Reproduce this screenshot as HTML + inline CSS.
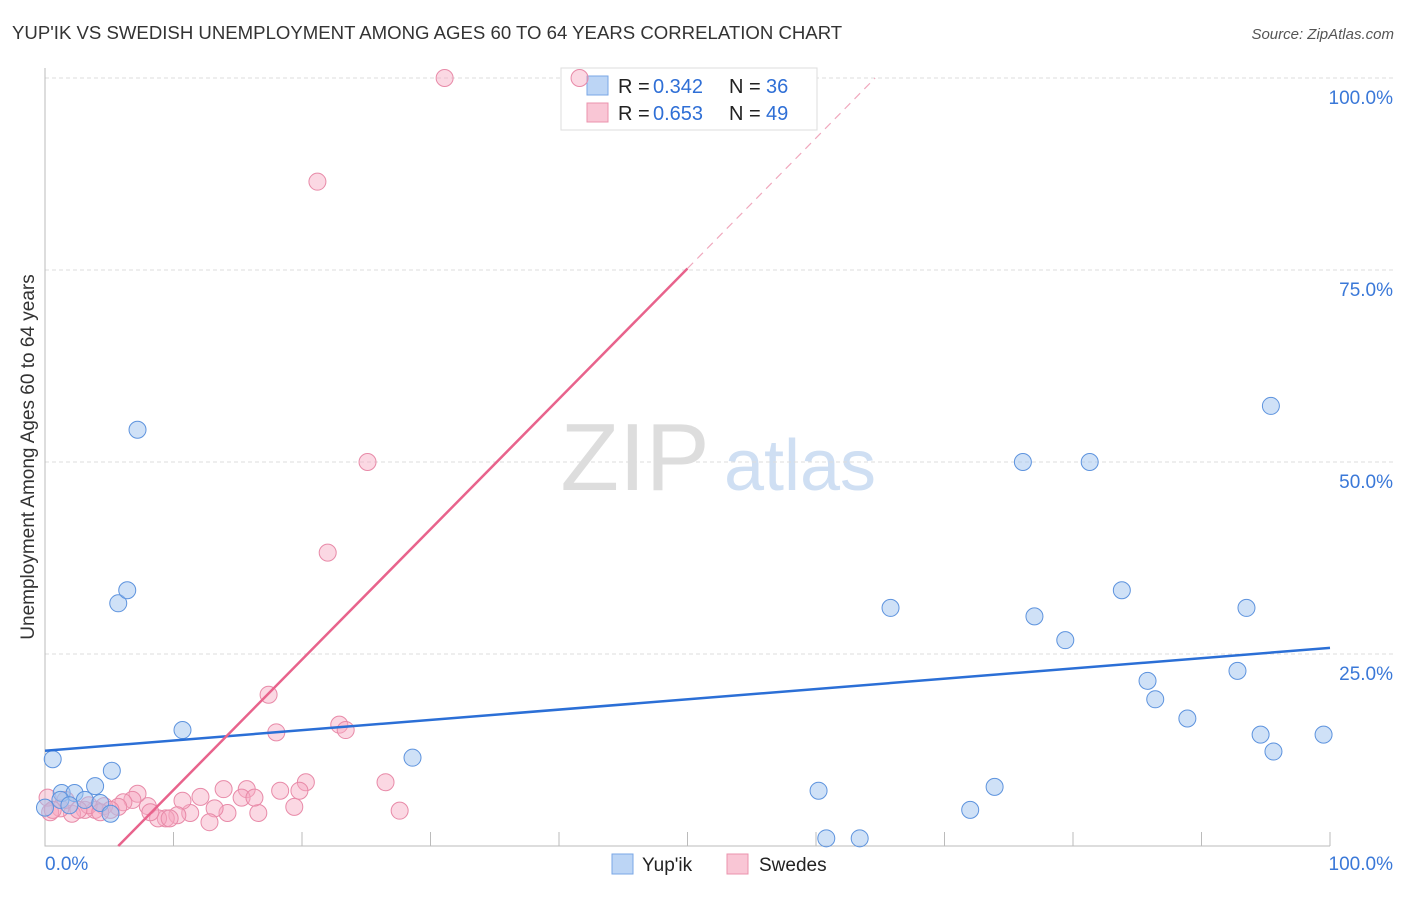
<!DOCTYPE html>
<html><head><meta charset="utf-8"><style>
body{margin:0;background:#fff;font-family:"Liberation Sans",sans-serif}
svg text{font-family:"Liberation Sans",sans-serif}
</style></head><body>
<svg id="c" width="1406" height="892" xmlns="http://www.w3.org/2000/svg">
<text x="12" y="39" font-size="18.6" fill="#333">YUP'IK VS SWEDISH UNEMPLOYMENT AMONG AGES 60 TO 64 YEARS CORRELATION CHART</text>
<text x="1394" y="39" font-size="15" fill="#555" font-style="italic" text-anchor="end">Source: ZipAtlas.com</text>
<text x="34" y="457" font-size="19" fill="#333" text-anchor="middle" transform="rotate(-90 34 457)">Unemployment Among Ages 60 to 64 years</text>
<text x="635" y="490" font-size="96" fill="#ddd" font-family="Liberation Serif" text-anchor="middle">ZIP</text>
<text x="800" y="490" font-size="72" fill="#cfdff3" text-anchor="middle">atlas</text>
<g id="grid"></g>
<g>
<rect x="561" y="68" width="256" height="62" fill="#fff" stroke="#ddd"/>
<rect x="587" y="76" width="21" height="19" fill="#bcd5f5" stroke="#7aa7e6"/>
<rect x="587" y="103" width="21" height="19" fill="#f9c6d5" stroke="#eb93ad"/>
<text x="618" y="93" font-size="20" fill="#222">R =</text><text x="653" y="93" font-size="20" fill="#2f6fd6">0.342</text>
<text x="729" y="93" font-size="20" fill="#222">N =</text><text x="766" y="93" font-size="20" fill="#2f6fd6">36</text>
<text x="618" y="120" font-size="20" fill="#222">R =</text><text x="653" y="120" font-size="20" fill="#2f6fd6">0.653</text>
<text x="729" y="120" font-size="20" fill="#222">N =</text><text x="766" y="120" font-size="20" fill="#2f6fd6">49</text>
</g>
<g id="pts"></g><g id="lines"></g>
<g>
<rect x="612" y="854" width="21" height="20" fill="#bcd5f5" stroke="#7aa7e6"/>
<text x="642" y="871" font-size="19" fill="#222">Yup'ik</text>
<rect x="727" y="854" width="21" height="20" fill="#f9c6d5" stroke="#eb93ad"/>
<text x="759" y="871" font-size="19" fill="#222">Swedes</text>
</g>
</svg>
<script>
const yTicks=[25,50,75,100];
const yTickLabels=["25.0%","50.0%","75.0%","100.0%"];
const blueX=[0.6,7.2,5.7,6.4,10.7,5.2,3.9,1.3,2.3,3.1,4.3,5.1,0,28.6,60.2,60.8,63.4,65.8,72,73.9,76.1,77,79.4,81.3,83.8,85.8,86.4,88.9,92.8,93.5,94.6,95.4,95.6,99.5,1.2,1.9];
const blueY=[11.3,54.2,31.6,33.3,15.1,9.8,7.8,6.9,6.9,6,5.6,4.2,5,11.5,7.2,1.0,1.0,31.0,4.7,7.7,50,29.9,26.8,50,33.3,21.5,19.1,16.6,22.8,31,14.5,57.3,12.3,14.5,6,5.3];
const pinkX=[31.1,21.2,25.1,22,17.4,18,22.9,23.4,26.5,27.6,20.3,19.8,18.3,19.4,15.7,16.6,13.9,15.3,14.2,13.2,12.1,11.3,12.8,10.7,10.3,9.4,8.8,8,7.2,6.8,6.1,5.7,4.6,3.9,3.1,2.1,1.2,0.4,0.2,3.4,1.6,2.6,0.6,41.6,9.7,5.1,8.2,16.3,4.3];
const pinkY=[100,86.5,50,38.2,19.7,14.8,15.8,15.1,8.3,4.6,8.3,7.2,7.2,5.1,7.4,4.3,7.4,6.3,4.3,4.9,6.4,4.3,3.1,5.9,4,3.6,3.6,5.2,6.8,6,5.7,5.1,5.2,4.7,4.7,4.2,4.9,4.4,6.3,5.3,6,4.7,4.7,100,3.6,4.7,4.4,6.3,4.4];
const blueLine=[[0,12.4],[100,25.8]];
const pinkSolid=[[5.7,0],[50.0,75.2]];
const pinkDash=[[50.0,75.2],[64.6,100]];
const X=v=>45+v*12.85, Y=v=>846-v*7.68;
const NS="http://www.w3.org/2000/svg";
function mk(t,a,p){const e=document.createElementNS(NS,t);for(const k in a)e.setAttribute(k,a[k]);p.appendChild(e);return e;}
const g=document.getElementById('grid'),pts=document.getElementById('pts'),ln=document.getElementById('lines');
yTicks.forEach((t,i)=>{const l=mk('line',{x1:45,x2:1394,y1:Y(t),y2:Y(t),stroke:'#ddd','stroke-dasharray':'4 3'},g);


const tx=mk('text',{x:1393,y:Y(t)+26,'font-size':19,fill:'#3a78d8','text-anchor':'end'},g);tx.textContent=yTickLabels[i];

});
const ax=mk('path',{d:'M45 68V846H1330',stroke:'#bbb',fill:'none'},g);


for(let i=1;i<=10;i++){const t=mk('line',{x1:X(i*10),x2:X(i*10),y1:846,y2:832,stroke:'#bbb'},g);

}
[[45,'start','0.0%'],[1393,'end','100.0%']].forEach(a=>{const t=mk('text',{x:a[0],y:870,'font-size':19,fill:'#3a78d8','text-anchor':a[1]},g);t.textContent=a[2];

});
pinkX.forEach((v,i)=>{const c=mk('circle',{cx:X(v),cy:Y(pinkY[i]),r:8.5,fill:'rgba(246,168,192,0.45)',stroke:'#e88aa8','stroke-width':1},pts);

});
blueX.forEach((v,i)=>{const c=mk('circle',{cx:X(v),cy:Y(blueY[i]),r:8.5,fill:'rgba(160,196,240,0.5)',stroke:'#5d93de','stroke-width':1},pts);

});
function L(p,st,w,d,n){const l=mk('line',{x1:X(p[0][0]),y1:Y(p[0][1]),x2:X(p[1][0]),y2:Y(p[1][1]),stroke:st,'stroke-width':w},ln);if(d)l.setAttribute('stroke-dasharray',d);

}
L(blueLine,'#2b6fd6',2.5,null,'yupik-trend-line');
L(pinkSolid,'#e8638c',2.5,null,'swedes-trend-line');
L(pinkDash,'#f0a8bd',1.2,'8 6','swedes-trend-extension');
</script>
</body></html>
